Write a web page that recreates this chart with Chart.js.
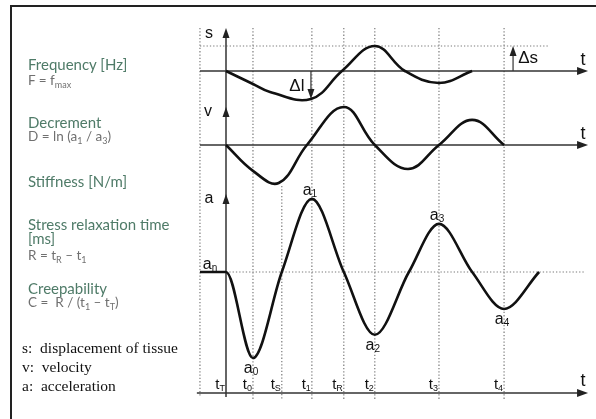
<!DOCTYPE html>
<html>
<head>
<meta charset="utf-8">
<script src="https://cdn.jsdelivr.net/npm/chart.js@4.4.0/dist/chart.umd.min.js"></script>
<style>
  html, body { margin:0; padding:0; background:#fff; }
  #wrap { position:relative; width:596px; height:419px; overflow:hidden; }
  #frame { position:absolute; left:10px; top:5px; width:640px; height:460px; border-left:2px solid #222; border-top:2px solid #222; }
  canvas { position:absolute; left:0; top:0; }
  .h { position:absolute; left:28px; font-family:Lato, sans-serif; font-size:15px; line-height:15px; color:#4f7b68; white-space:nowrap; }
  .f { position:absolute; left:28px; font-family:Lato, sans-serif; font-size:13.5px; line-height:13px; color:#707070; white-space:nowrap; }
  .f sub { font-size:9px; vertical-align:-3px; line-height:0; }
  .lg { position:absolute; left:22px; font-family:'Liberation Serif', serif; font-size:15.5px; line-height:19px; color:#111; white-space:pre; }
</style>
</head>
<body>
<div id="wrap">
  <div id="frame"></div>
  <canvas id="diagram" width="596" height="419"></canvas>

  <div class="h" style="top:57px">Frequency [Hz]</div>
  <div class="f" style="top:74px">F = f<sub>max</sub></div>
  <div class="h" style="top:115px">Decrement</div>
  <div class="f" style="top:130px">D = ln (a<sub>1</sub> / a<sub>3</sub>)</div>
  <div class="h" style="top:174px">Stiffness [N/m]</div>
  <div class="h" style="top:217px">Stress relaxation time</div>
  <div class="h" style="top:231px">[ms]</div>
  <div class="f" style="top:249px">R = t<sub>R</sub> – t<sub>1</sub></div>
  <div class="h" style="top:281px">Creepability</div>
  <div class="f" style="top:296px">C =&nbsp; R / (t<sub>1</sub> – t<sub>T</sub>)</div>

  <div class="lg" style="top:338px">s:  displacement of tissue
v:  velocity
a:  acceleration</div>
</div>

<script>
// time marks on the bottom axis (t_T is the origin)
const tickNames = ['T', '0', 'S', '1', 'R', '2', '3', '4'];
const tickTimes = [0, 8.7, 18, 27.7, 38, 48, 68.7, 89.7];

// s: displacement of tissue
const sTimes  = [0, 8.7, 14.2, 27.4, 37.4, 48, 57.7, 68.7, 79.4];
const sValues = [0, -0.52, -0.84, -1.12, 0, 1.0, 0, -0.48, 0];

// v: velocity
const vTimes  = [0, 8.7, 17, 26.1, 38, 48, 58.7, 68.7, 79.4, 89.7];
const vValues = [0, -0.68, -1.0, 0, 1.0, 0, -0.63, 0, 0.66, 0];

// a: acceleration (a_n is the resting level 0)
const aTimes  = [-8.4, 0, 8.7, 18, 27.7, 38, 48, 59, 68.7, 79.4, 89.7, 101];
const aValues = [0, 0, -1.0, 0, 0.85, 0, -0.73, 0, 0.56, 0, -0.43, 0];

// extreme points a0..a4 (index into the acceleration arrays)
const peakNames = ['0', '1', '2', '3', '4'];
const peakIndex = [2, 4, 6, 8, 10];

// layout of the drawing (pixels per unit and where the zero lines sit)
const X_ORIGIN = 226, X_UNIT = 3.1;
const S_ZERO = 71, S_UNIT = 25;
const V_ZERO = 145, V_UNIT = 38;
const A_ZERO = 272, A_UNIT = 86;
const W = 596, H = 419;

function toPoints(ts, vs) {
  return ts.map(function (t, i) { return { x: t, y: vs[i] }; });
}

function line(ctx, x1, y1, x2, y2) {
  ctx.beginPath(); ctx.moveTo(x1, y1); ctx.lineTo(x2, y2); ctx.stroke();
}

function arrowHead(ctx, x, y, dir) { // dir: 'up' 'down' 'right'
  ctx.beginPath();
  if (dir == 'up') { ctx.moveTo(x, y); ctx.lineTo(x - 3.5, y + 10); ctx.lineTo(x + 3.5, y + 10); }
  if (dir == 'down') { ctx.moveTo(x, y); ctx.lineTo(x - 3.5, y - 10); ctx.lineTo(x + 3.5, y - 10); }
  if (dir == 'right') { ctx.moveTo(x, y); ctx.lineTo(x - 11, y - 4); ctx.lineTo(x - 11, y + 4); }
  ctx.closePath(); ctx.fill();
}

// draws "main" with a subscript, anchor: 'center' or 'right'
function subText(ctx, main, sub, x, y, size, anchor) {
  ctx.font = size + 'px "Liberation Sans", Arial, sans-serif';
  const w1 = ctx.measureText(main).width;
  ctx.font = Math.round(size * 0.6) + 'px "Liberation Sans", Arial, sans-serif';
  const w2 = ctx.measureText(sub).width;
  let x0 = anchor == 'right' ? x - w1 - w2 : x - (w1 + w2) / 2;
  ctx.textAlign = 'left';
  ctx.textBaseline = 'alphabetic';
  ctx.font = size + 'px "Liberation Sans", Arial, sans-serif';
  ctx.fillText(main, x0, y);
  ctx.font = Math.round(size * 0.6) + 'px "Liberation Sans", Arial, sans-serif';
  ctx.fillText(sub, x0 + w1, y + 2);
}

const diagramPlugin = {
  id: 'diagramPlugin',
  beforeDatasetsDraw(chart) {
    const ctx = chart.ctx, sc = chart.scales;
    const X = v => sc.x.getPixelForValue(v);
    const S = v => sc.ys.getPixelForValue(v);
    const V = v => sc.yv.getPixelForValue(v);
    const A = v => sc.ya.getPixelForValue(v);
    const left = X(-8.4), tip = X(116.8);
    ctx.save();

    // dotted guides
    ctx.strokeStyle = '#7a7a7a';
    ctx.lineWidth = 1.2;
    ctx.setLineDash([1.3, 2]);
    line(ctx, left, S(1.72), left, A(-1.44));
    tickTimes.forEach(function (t, i) {
      if (t == 0) return;
      const top = tickNames[i] == 'S' ? A(1.0) : S(1.72);
      line(ctx, X(t), top, X(t), A(-1.49));
    });
    line(ctx, left, S(1), X(103.9), S(1));
    line(ctx, X(0), A(0), X(115.5), A(0));
    ctx.setLineDash([]);

    // solid axes
    ctx.strokeStyle = '#333';
    ctx.fillStyle = '#222';
    ctx.lineWidth = 1.5;
    line(ctx, left, S(0), tip - 4, S(0));
    line(ctx, left, V(0), tip - 4, V(0));
    line(ctx, X(-9.4), A(-1.407), tip - 4, A(-1.407));
    arrowHead(ctx, tip, S(0), 'right');
    arrowHead(ctx, tip, V(0), 'right');
    arrowHead(ctx, tip, A(-1.407), 'right');
    line(ctx, X(0), S(1.72) + 4, X(0), A(-1.453));
    arrowHead(ctx, X(0), S(1.72), 'up');
    arrowHead(ctx, X(0), V(1.0), 'up');
    arrowHead(ctx, X(0), A(0.907), 'up');

    // delta l and delta s markers
    ctx.lineWidth = 1.2;
    line(ctx, X(27.4), S(0), X(27.4), S(-1.12) - 4);
    arrowHead(ctx, X(27.4), S(-1.12), 'down');
    line(ctx, X(92.6), S(0), X(92.6), S(1) + 4);
    arrowHead(ctx, X(92.6), S(1), 'up');
    ctx.restore();
  },
  afterDatasetsDraw(chart) {
    const ctx = chart.ctx, sc = chart.scales;
    const X = v => sc.x.getPixelForValue(v);
    const S = v => sc.ys.getPixelForValue(v);
    const V = v => sc.yv.getPixelForValue(v);
    const A = v => sc.ya.getPixelForValue(v);
    ctx.save();
    ctx.fillStyle = '#111';
    ctx.textAlign = 'center';
    ctx.textBaseline = 'middle';
    ctx.font = '16px "Liberation Sans", Arial, sans-serif';
    ctx.fillText('s', X(0) - 17, S(1.72) + 6);
    ctx.fillText('v', X(0) - 18, V(1.0) + 5);
    ctx.fillText('a', X(0) - 17, A(0.907) + 5);
    ctx.font = '18px "Liberation Sans", Arial, sans-serif';
    ctx.fillText('t', X(116.8) - 5, S(0) - 11);
    ctx.fillText('t', X(116.8) - 5, V(0) - 11);
    ctx.fillText('t', X(116.8) - 5, A(-1.407) - 12);
    ctx.font = '17px "Liberation Sans", Arial, sans-serif';
    ctx.fillText('\u0394l', X(27.4) - 14, S(-0.6));
    ctx.fillText('\u0394s', X(92.6) + 15, S(0.52));

    // time labels along the bottom axis
    tickTimes.forEach(function (t, i) {
      subText(ctx, 't', tickNames[i], X(t) - 1, A(-1.407) - 4, 15, 'right');
    });

    // a_n and the extreme points a0..a4
    subText(ctx, 'a', 'n', X(0) - 16, A(0) - 3, 16, 'center');
    peakIndex.forEach(function (k, i) {
      const below = aValues[k] < 0;
      const px = X(aTimes[k]) - 2, py = A(aValues[k]) + (below ? 15 : -4);
      subText(ctx, 'a', peakNames[i], px, py, 16, 'center');
    });
    ctx.restore();
  }
};

const curveStyle = {
  borderColor: '#111',
  borderWidth: 2.6,
  pointRadius: 0,
  fill: false,
  tension: 0.4,
  clip: false
};

new Chart(document.getElementById('diagram'), {
  type: 'line',
  data: {
    datasets: [
      Object.assign({ label: 's', data: toPoints(sTimes, sValues), yAxisID: 'ys' }, curveStyle),
      Object.assign({ label: 'v', data: toPoints(vTimes, vValues), yAxisID: 'yv' }, curveStyle),
      // acceleration starts flat, monotone keeps it from bulging above a_n
      Object.assign({ label: 'a', data: toPoints(aTimes, aValues), yAxisID: 'ya' }, curveStyle,
                    { cubicInterpolationMode: 'monotone' })
    ]
  },
  options: {
    responsive: false,
    animation: false,
    layout: { padding: 0 },
    plugins: { legend: { display: false }, tooltip: { enabled: false } },
    scales: {
      x:  { type: 'linear', display: false, min: -X_ORIGIN / X_UNIT, max: (W - X_ORIGIN) / X_UNIT },
      ys: { type: 'linear', display: false, position: 'left', min: (S_ZERO - H) / S_UNIT, max: S_ZERO / S_UNIT },
      yv: { type: 'linear', display: false, position: 'left', min: (V_ZERO - H) / V_UNIT, max: V_ZERO / V_UNIT },
      ya: { type: 'linear', display: false, position: 'left', min: (A_ZERO - H) / A_UNIT, max: A_ZERO / A_UNIT }
    }
  },
  plugins: [diagramPlugin]
});
</script>
</body>
</html>
